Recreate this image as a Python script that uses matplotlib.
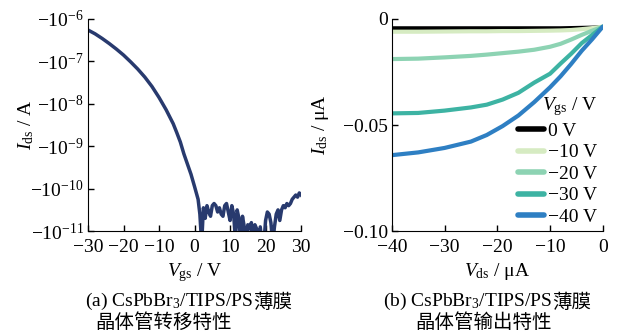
import numpy as np
import matplotlib
matplotlib.use('Agg')
import matplotlib.pyplot as plt
from matplotlib.ticker import FixedLocator, FixedFormatter, NullLocator

plt.rcParams['font.family'] = ['Liberation Serif', 'Noto Sans CJK SC']
plt.rcParams['mathtext.fontset'] = 'custom'
plt.rcParams['mathtext.rm'] = 'Liberation Serif'
plt.rcParams['mathtext.it'] = 'Liberation Serif:italic'
plt.rcParams['axes.unicode_minus'] = True

# (a) transfer curve: Vgs (V) and log10(|Ids| / A)
vgs = [-30, -28, -26, -24, -22, -20, -18, -16, -14, -12, -10, -8, -6, -5, -4, -3, -2, -1, 0,
       1.0, 1.5, 2.0, 2.5, 3.0, 3.5, 4.0, 4.5, 5.0, 5.5, 6.0, 6.5, 7.0, 7.5, 8.0, 8.5, 9.0, 9.5,
       10.0, 10.5, 11.0, 11.5, 12.0, 12.5, 13.0, 13.5, 14.0, 14.5, 15.0, 15.5, 16.0, 16.5, 17.0,
       17.5, 18.0, 18.5, 19.0, 19.5, 20.0, 20.5, 21.0, 21.5, 22.0, 22.5, 23.0, 23.5, 24.0, 24.5,
       25.0, 25.5, 26.0, 26.5, 27.0, 27.5, 28.0, 28.5, 29.0, 29.5, 30.0]
log_ids = [-6.26, -6.35, -6.46, -6.58, -6.71, -6.85, -7.01, -7.18, -7.37, -7.59, -7.85, -8.14,
           -8.47, -8.68, -8.90, -9.18, -9.42, -9.66, -9.95,
           -10.25, -10.6, -11.3, -10.45, -10.7, -10.4, -10.55, -10.65, -10.4, -10.35, -10.4,
           -10.55, -10.45, -10.6, -10.65, -10.4, -10.35, -10.55, -10.75, -10.4, -10.6, -11.2,
           -10.5, -10.7, -11.3, -10.65, -10.9, -11.3, -10.85, -10.95, -10.8, -11.3, -10.85,
           -10.95, -11.3, -10.9, -11.3, -11.3, -10.75, -10.55, -10.6, -10.8, -11.3, -10.9,
           -10.6, -10.5, -10.75, -10.5, -10.4, -10.45, -10.35, -10.4, -10.35, -10.25, -10.2,
           -10.15, -10.2, -10.1, -10.15]

# (b) output curves: Vds and Ids (uA) for each Vgs
vds = [-40, -35, -30, -25, -22, -19, -16, -13, -10, -8, -6, -4, -2, 0]
gate_labels = ['0 V', '\u221210 V', '\u221220 V', '\u221230 V', '\u221240 V']
ids_0 = [-0.0044, -0.0044, -0.0044, -0.0044, -0.0044, -0.0044, -0.0044, -0.0044, -0.0044,
         -0.0044, -0.0043, -0.0042, -0.0041, -0.0038]
ids_10 = [-0.0060, -0.0060, -0.0059, -0.0058, -0.0058, -0.0057, -0.0057, -0.0056, -0.0055,
          -0.0054, -0.0052, -0.0048, -0.0043, -0.0036]
ids_20 = [-0.0189, -0.0187, -0.0181, -0.0174, -0.0168, -0.0161, -0.0154, -0.0145, -0.0131,
          -0.0117, -0.0097, -0.0075, -0.0055, -0.0036]
ids_30 = [-0.0445, -0.0443, -0.0432, -0.0417, -0.0404, -0.0380, -0.0348, -0.0300, -0.0258,
          -0.0210, -0.0164, -0.0114, -0.0075, -0.0036]
ids_40 = [-0.0642, -0.0629, -0.0608, -0.0578, -0.0547, -0.0505, -0.0455, -0.0392, -0.0322,
          -0.0270, -0.0212, -0.0150, -0.0095, -0.0036]
colors = ['#000000', '#d6ebc2', '#8dd3b3', '#3db3a3', '#2e7fc3']

fig = plt.figure(figsize=(6.17, 3.33), dpi=100)
ax1 = fig.add_axes([0.1426, 0.306, 0.3454, 0.637])
ax2 = fig.add_axes([0.635, 0.306, 0.342, 0.637])

for ax in (ax1, ax2):
    ax.spines['top'].set_visible(False)
    ax.spines['right'].set_visible(False)
    ax.tick_params(direction='in', length=4, width=1, labelsize=14)
    ax.tick_params(axis='x', pad=6)
    ax.tick_params(axis='y', pad=3)

ax1.plot(vgs, 10 ** np.array(log_ids), color='#283a6e', lw=2.5)
ax1.set_yscale('log')
ax1.set_ylim(1e-11, 1e-6)
ax1.set_xlim(-30, 30)
ax1.set_xticks([-30, -20, -10, 0, 10, 20, 30])
ax1.set_xticklabels(['\u221230', '\u221220', '\u221210', '0', '10', '20', '30'])
ax1.yaxis.set_major_locator(FixedLocator([1e-11, 1e-10, 1e-9, 1e-8, 1e-7, 1e-6]))
ax1.yaxis.set_major_formatter(FixedFormatter([r'$-10^{-%d}$' % k for k in [11, 10, 9, 8, 7, 6]]))
ax1.yaxis.set_minor_locator(NullLocator())
ax1.set_ylabel(r'$I_{\mathrm{ds}}$ / A', fontsize=14)
ax1.yaxis.set_label_coords(-0.245, 0.5)
ax1.set_xlabel(r'$V_{\mathrm{gs}}$ / V', fontsize=14, labelpad=3)

for ids, c, lab in zip([ids_0, ids_10, ids_20, ids_30, ids_40], colors, gate_labels):
    ax2.plot(vds, ids, color=c, lw=3, label=lab, solid_capstyle='round')
ax2.set_xlim(-40, 0)
ax2.set_ylim(-0.10, 0)
ax2.set_xticks([-40, -30, -20, -10, 0])
ax2.set_xticklabels(['\u221240', '\u221230', '\u221220', '\u221210', '0'])
ax2.set_yticks([-0.10, -0.05, 0])
ax2.set_yticklabels(['\u22120.10', '\u22120.05', '0'])
ax2.set_ylabel(r'$I_{\mathrm{ds}}$ / $\mathrm{\mu}$A', fontsize=14)
ax2.yaxis.set_label_coords(-0.29, 0.5)
ax2.set_xlabel(r'$V_{\mathrm{ds}}$ / $\mathrm{\mu}$A', fontsize=14, labelpad=3)
leg = ax2.legend(loc='lower right', bbox_to_anchor=(1.04, -0.04), frameon=False, fontsize=14,
                 title=r'$V_{\mathrm{gs}}$ / V', title_fontsize=14, handlelength=1.35,
                 handletextpad=0.2, labelspacing=0.2, borderpad=0.2, alignment='right')
for h in leg.get_lines():
    h.set_linewidth(4)

# captions: CJK characters placed after the mathtext part
t1 = fig.text(0.138, 0.082, '(a) CsPbBr$_3$/TIPS/PS', fontsize=14, ha='left', va='baseline')
t2 = fig.text(0.621, 0.082, '(b) CsPbBr$_3$/TIPS/PS', fontsize=14, ha='left', va='baseline')
for t in (t1, t2):
    ax1.annotate('\u8584\u819c', xy=(1, 0), xycoords=t, xytext=(0, 0), textcoords='offset points',
                 fontsize=14, ha='left', va='bottom', annotation_clip=False)
fig.text(0.155, 0.015, '\u6676\u4f53\u7ba1\u8f6c\u79fb\u7279\u6027', fontsize=14, ha='left', va='baseline')
fig.text(0.673, 0.015, '\u6676\u4f53\u7ba1\u8f93\u51fa\u7279\u6027', fontsize=14, ha='left', va='baseline')

fig.savefig('out.png', dpi=100)
